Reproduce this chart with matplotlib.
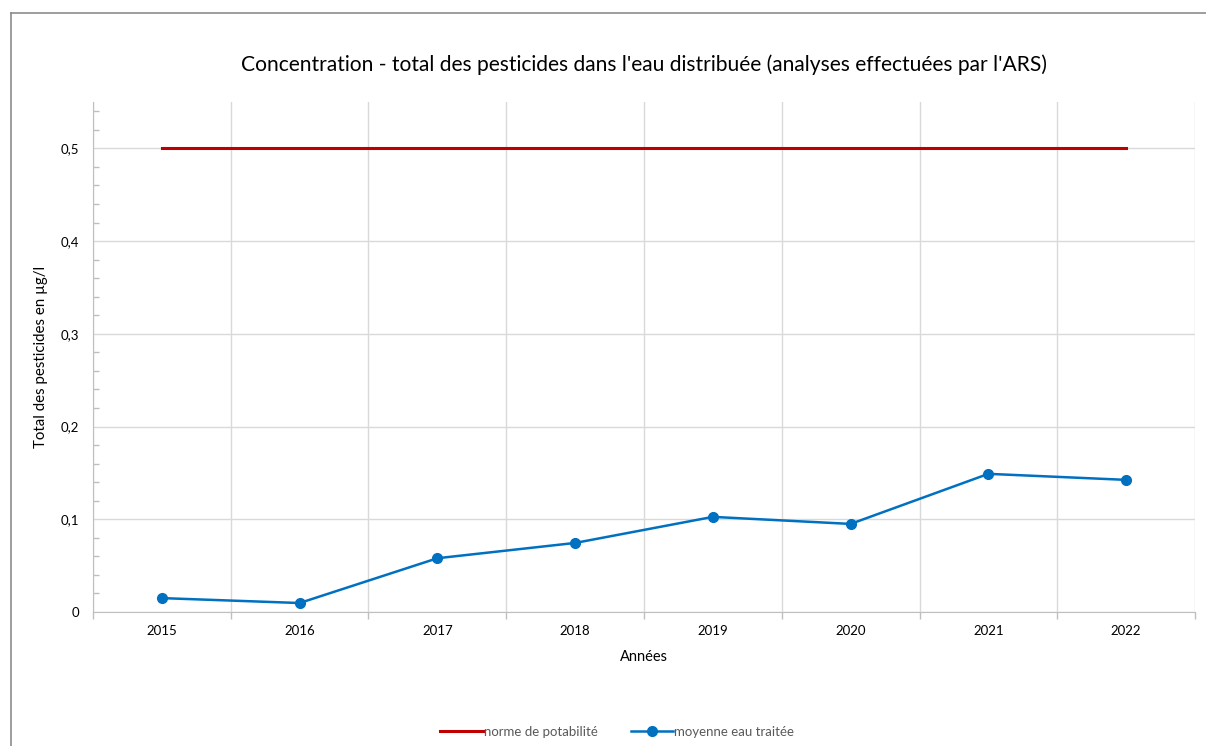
import numpy as np
import matplotlib.pyplot as plt
from matplotlib.lines import Line2D
from matplotlib.ticker import MultipleLocator, FuncFormatter, FixedLocator

plt.rcParams['font.family'] = ['Lato', 'DejaVu Sans']

# donnees
annees = ['2015', '2016', '2017', '2018', '2019', '2020', '2021', '2022']
norme = [0.5, 0.5, 0.5, 0.5, 0.5, 0.5, 0.5, 0.5]
moyenne = [0.015, 0.0097, 0.058, 0.0745, 0.1026, 0.095, 0.149, 0.1425]

grille = '#d9d9d9'

fig = plt.figure(figsize=(12.06, 7.46), dpi=100)
ax = fig.add_axes([0.0771, 0.1796, 0.9138, 0.6837])

x = np.arange(len(annees))
ax.plot(x, norme, color='#c00000', lw=2.2, label='norme de potabilité')
ax.plot(x, moyenne, color='#0070c0', lw=1.8, marker='o', ms=7,
        label='moyenne eau traitée')

ax.set_xlim(-0.5, len(annees) - 0.5)
ax.set_ylim(0, 0.55)

# axe y
ax.yaxis.set_major_locator(MultipleLocator(0.1))
ax.yaxis.set_minor_locator(MultipleLocator(0.02))
ax.yaxis.set_major_formatter(FuncFormatter(
    lambda v, p: '0' if abs(v) < 1e-9 else ('%.1f' % v).replace('.', ',')))
ax.tick_params(axis='y', which='major', length=0, labelsize=9.5, pad=10)
ax.tick_params(axis='y', which='minor', direction='in', length=4,
               color='#bfbfbf', width=1)

# axe x : labels au centre, graduations aux limites
ax.set_xticks(x)
ax.set_xticklabels(annees)
ax.xaxis.set_minor_locator(FixedLocator(np.arange(-0.5, len(annees), 1.0)))
ax.tick_params(axis='x', which='major', length=0, labelsize=9.5, pad=9)
ax.tick_params(axis='x', which='minor', direction='out', length=5,
               color='#bfbfbf', width=1)

ax.grid(True, which='major', axis='y', color=grille, lw=1)
ax.grid(True, which='minor', axis='x', color=grille, lw=1)
ax.set_axisbelow(True)

for s in ['top', 'right']:
    ax.spines[s].set_visible(False)
ax.spines['left'].set_color('#bfbfbf')
ax.spines['bottom'].set_color('#bfbfbf')

ax.set_xlabel('Années', fontsize=10.5, labelpad=10)
ax.set_ylabel('Total des pesticides en µg/l', fontsize=10.8, labelpad=9)
ax.set_title("Concentration - total des pesticides dans l'eau distribuée (analyses effectuées par l'ARS)",
             fontsize=15.1, pad=22)

leg = fig.legend(loc='center', bbox_to_anchor=(0.512, 0.019), ncol=2,
                 frameon=False, fontsize=9.5, handlelength=3.2,
                 handletextpad=0.1, columnspacing=2.5)
for t in leg.get_texts():
    t.set_color('#595959')

# cadre du graphique (gauche et haut seulement)
fig.add_artist(Line2D([11 / 1206, 11 / 1206], [0, 1 - 13 / 746],
                      transform=fig.transFigure, color='#8c8c8c', lw=1.2))
fig.add_artist(Line2D([11 / 1206, 1], [1 - 13 / 746, 1 - 13 / 746],
                      transform=fig.transFigure, color='#8c8c8c', lw=1.2))

fig.savefig('out.png', dpi=100)
